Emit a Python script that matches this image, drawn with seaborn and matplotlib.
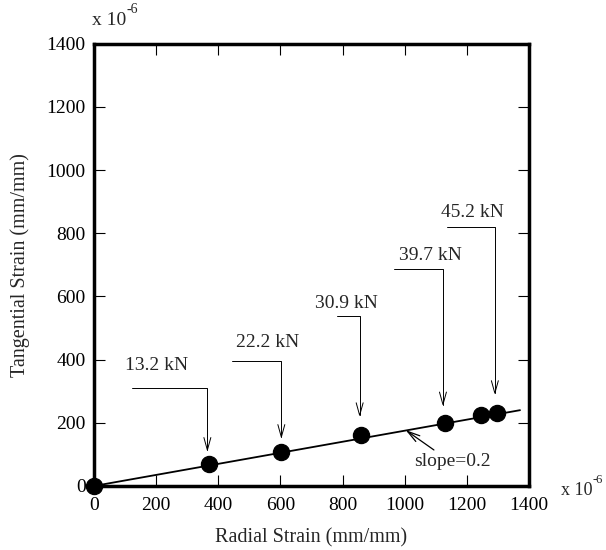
import matplotlib
matplotlib.use("Agg")
import matplotlib.pyplot as plt
import seaborn as sns
import pandas as pd

# Data
radial = [0, 371, 603, 858, 1129, 1245, 1297]
tangential = [0, 70, 108, 161, 199, 224, 232]
fit_x = [0, 1371]
fit_y = [0, 240]

load_labels = ["13.2 kN", "22.2 kN", "30.9 kN", "39.7 kN", "45.2 kN"]
# annotation geometry (data coords): leader start x, leader corner x, leader y, arrow tip y, text x, text y
lead_x0 = [123, 445, 781, 965, 1135]
lead_x1 = [365, 603, 855, 1123, 1290]
lead_y = [310, 396, 538, 687, 819]
tip_y = [108, 149, 218, 252, 288]
text_x = [203, 558, 813, 1084, 1219]
text_y = [383, 453, 579, 731, 867]

xticks = [0, 200, 400, 600, 800, 1000, 1200, 1400]
yticks = [0, 200, 400, 600, 800, 1000, 1200, 1400]

sns.set_style("ticks")
plt.rcParams['font.family'] = ['Liberation Serif', 'DejaVu Serif']

fig = plt.figure(figsize=(6.06, 5.5), dpi=100)
ax = fig.add_axes([0.155, 0.1164, 0.718, 0.804])

df_fit = pd.DataFrame({"x": fit_x, "y": fit_y})
sns.lineplot(data=df_fit, x="x", y="y", ax=ax, color="black", linewidth=1.3)
df = pd.DataFrame({"x": radial, "y": tangential})
sns.scatterplot(data=df, x="x", y="y", ax=ax, color="black", s=135, edgecolor="black", zorder=5, clip_on=False)

arrow_style = "->,head_length=0.9,head_width=0.25"
for lab, x0, x1, ly, ty, tx, tyy in zip(load_labels, lead_x0, lead_x1, lead_y, tip_y, text_x, text_y):
    ax.annotate("", xy=(x1, ty), xytext=(x0, ly),
                arrowprops=dict(arrowstyle=arrow_style, color="black", lw=0.7,
                                connectionstyle="angle,angleA=0,angleB=90,rad=0",
                                shrinkA=0, shrinkB=0))
    ax.text(tx, tyy, lab, ha="center", va="center", fontsize=14)

ax.annotate("", xy=(1003, 177), xytext=(1094, 114),
            arrowprops=dict(arrowstyle=arrow_style, color="black", lw=0.9, shrinkA=0, shrinkB=0))
ax.text(1155, 76, "slope=0.2", ha="center", va="center", fontsize=14)

ax.set_xlim(0, 1400)
ax.set_ylim(0, 1400)
ax.set_xticks(xticks)
ax.set_yticks(yticks)
ax.tick_params(direction="in", length=8, width=0.8, top=True, right=True,
               labeltop=False, labelright=False, labelsize=14, colors="black")
ax.tick_params(axis="x", pad=8)
ax.tick_params(axis="y", pad=6)
for s in ax.spines.values():
    s.set_linewidth(2.5)
    s.set_color("black")
ax.set_xlabel("Radial Strain (mm/mm)", fontsize=14.5, labelpad=10)
ax.set_ylabel("Tangential Strain (mm/mm)", fontsize=14.5, labelpad=12)

def offset_label(x, y, size, supsize):
    t = fig.text(x, y, "x 10", fontsize=size, ha="left", va="center")
    fig.canvas.draw()
    bb = t.get_window_extent()
    fx = bb.x1 / fig.bbox.width
    fig.text(fx + 0.001, y + 0.02, "-6", fontsize=supsize, ha="left", va="center")

offset_label(0.152, 0.962, 14, 10)
offset_label(0.925, 0.108, 13, 9)

fig.savefig("out.png", dpi=100)
